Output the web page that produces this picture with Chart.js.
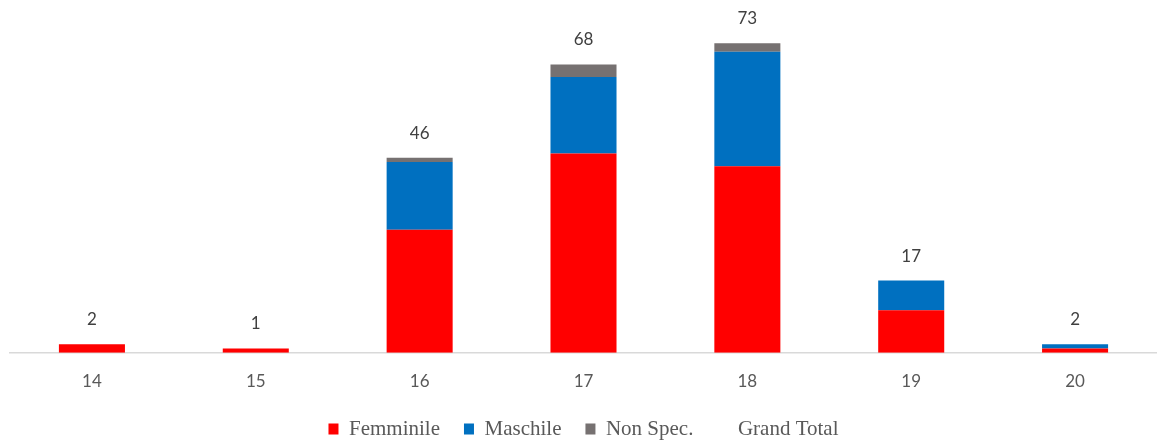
<!DOCTYPE html>
<html>
<head>
<meta charset="utf-8">
<script src="https://cdn.jsdelivr.net/npm/chart.js@4"></script>
<style>
  html, body { margin: 0; padding: 0; background: #fff; }
  #wrap { width: 1157px; height: 446px; }
</style>
</head>
<body>
<div id="wrap"><canvas id="myChart" width="1157" height="446"></canvas></div>
<script>
// Chart data
const ages = ['14', '15', '16', '17', '18', '19', '20'];
const femminile = [2, 1, 29, 47, 44, 10, 1];
const maschile = [0, 0, 16, 18, 27, 7, 1];
const nonSpec = [0, 0, 1, 3, 2, 0, 0];
const grandTotal = [2, 1, 46, 68, 73, 17, 2];

// Draw the totals above each stack
const totalLabels = {
    id: 'totalLabels',
    afterDatasetsDraw(chart) {
        const ctx = chart.ctx;
        const meta = chart.getDatasetMeta(3);
        ctx.save();
        ctx.font = '17px Lato, sans-serif';
        ctx.fillStyle = '#404040';
        ctx.textAlign = 'center';
        ctx.textBaseline = 'middle';
        meta.data.forEach((pt, i) => {
            ctx.fillText(grandTotal[i], pt.x, pt.y - 24.5);
        });
        ctx.restore();
    }
};

const ctx = document.getElementById('myChart').getContext('2d');

new Chart(ctx, {
    data: {
        labels: ages,
        datasets: [
            { type: 'bar', label: 'Femminile', data: femminile, backgroundColor: '#ff0000', stack: 's' },
            { type: 'bar', label: 'Maschile', data: maschile, backgroundColor: '#0070c0', stack: 's' },
            { type: 'bar', label: 'Non Spec.', data: nonSpec, backgroundColor: '#767171', stack: 's' },
            {
                type: 'line', label: 'Grand Total', data: grandTotal,
                showLine: false, pointRadius: 0, borderColor: 'rgba(0,0,0,0)',
                backgroundColor: 'rgba(0,0,0,0)', stack: 'total'
            }
        ]
    },
    options: {
        responsive: false,
        animation: false,
        layout: { padding: { top: 13.5, left: 10, right: 0, bottom: -3.5 } },
        datasets: {
            bar: { categoryPercentage: 1, barPercentage: 0.403 }
        },
        scales: {
            x: {
                stacked: true,
                grid: { display: false },
                border: { color: '#d9d9d9', width: 1.5 },
                ticks: {
                    color: '#595959',
                    padding: 11,
                    font: { family: 'Lato, sans-serif', size: 17 }
                },
                afterFit(scale) { scale.height = 41.8; }
            },
            y: {
                stacked: true,
                display: false,
                min: 0,
                max: 80
            }
        },
        plugins: {
            tooltip: { enabled: false },
            legend: {
                position: 'bottom',
                labels: {
                    color: '#595959',
                    boxWidth: 10,
                    boxHeight: 11,
                    padding: 24,
                    font: { family: '"Liberation Serif", serif', size: 21 },
                    generateLabels(chart) {
                        return chart.data.datasets.map((ds, i) => ({
                            text: ds.label,
                            fillStyle: ds.type === 'line' ? 'rgba(0,0,0,0)' : ds.backgroundColor,
                            strokeStyle: 'rgba(0,0,0,0)',
                            lineWidth: 0,
                            fontColor: '#595959',
                            datasetIndex: i
                        }));
                    }
                }
            }
        }
    },
    plugins: [totalLabels]
});
</script>
</body>
</html>
